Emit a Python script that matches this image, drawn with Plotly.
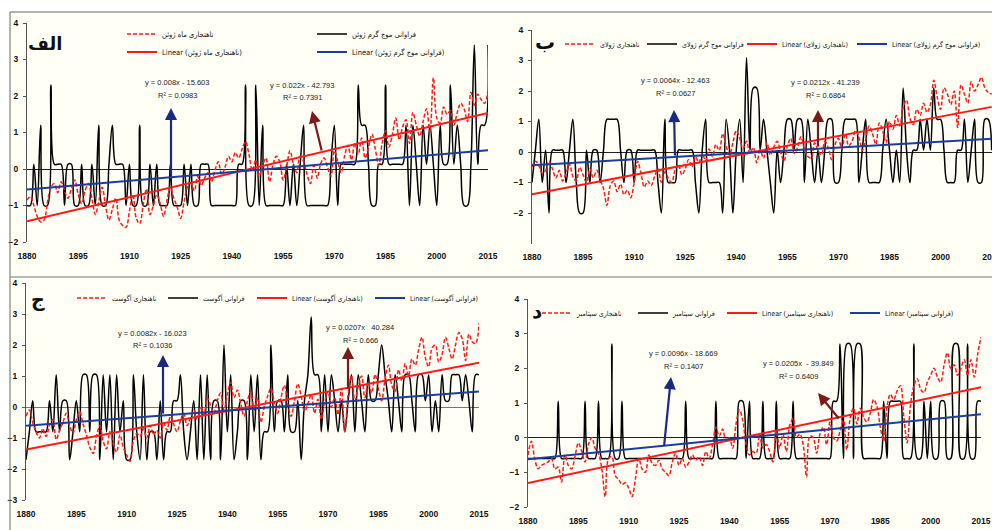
import plotly.graph_objects as go

W, H = 992, 530
years = list(range(1880, 2016))
tick_years = [1880, 1895, 1910, 1925, 1940, 1955, 1970, 1985, 2000, 2015]

# ---------------- Panel الف (June) ----------------
june_freq = [
    -1, -1, 0.13, -1, 1.2, -1, -1, 2.3, 0.13, 0.13,
    0.13, -1, 0.13, 0.13, -1, -1, 0.13, -1, -1, 0.13,
    -1, 1.2, -1, -1, 0.13, 1.2, 0.13, 0.13, 0.13, -1,
    0.13, -1, -1, 1.2, -1, -1, 0.13, -1, 0.13, -1,
    -1, -1, 0.13, -1, -1, -1, 0.13, -1, 0.13, -1,
    -1, 0.13, 0.13, 0.13, -1, -1, -1, -1, -1, -1,
    -1, -1, 0.13, 0.13, 2.3, -1, -1, 2.3, -1, 1.2,
    -1, -1, -1, -1, -1, -1, 0.13, -1, 0.13, -1,
    0.13, 1.2, -1, -1, -1, -1, -1, -1, -1, 0.13,
    1.2, -1, 0.13, 0.13, 0.13, 0.13, 0.13, 2.3, 1.2, 1.2,
    0.13, -1, -1, 0.13, 0.13, 2.3, 0.13, 0.13, 0.13, 0.13,
    0.13, 1.2, -1, 1.2, 0.13, -1, 1.2, 0.13, 1.2, 0.13,
    -1, 1.2, 0.13, 0.13, 2.3, 0.13, 1.2, 0.13, -1, -1,
    0.13, 3.4, 0.13, 1.2, 1.2, 3.4]
june_anom = [
    -0.85, -0.75, -1.0, -1.3, -1.45, -1.4, -0.9, -0.5, -0.4, -0.65,
    -0.35, -0.6, -0.8, -0.55, -0.3, -0.7, -0.95, -0.6, -0.4, -0.8,
    -1.25, -0.9, -0.5, -1.0, -1.4, -1.1, -0.8, -1.4, -1.55, -1.6,
    -1.15, -0.7, -1.35, -1.5, -1.0, -0.55, -1.25, -1.0, -0.7, -0.95,
    -1.3, -0.85, -0.5, -0.8, -1.05, -1.35, -0.9, -0.5, -0.4, -0.6,
    -0.2, -0.45, -0.25, -0.1, -0.35, -0.05, 0.2, -0.15, 0.05, 0.35,
    0.2, 0.45, 0.3, 0.55, 0.75, 0.4, -0.05, 0.25, -0.2, 0.1,
    0.3, -0.35, 0.1, 0.35, 0.2, -0.3, 0.05, 0.5, 0.15, -0.1,
    0.35, 0.2, -0.15, -0.4, 0.1, -0.25, 0.15, 0.3, 0.05, -0.2,
    0.5, 0.2, -0.1, 0.35, 0.65, 0.25, 0.7, 0.4, 0.85, 0.3,
    0.6, 0.95, 0.55, 0.1, 0.7, 1.05, 0.6, 0.95, 1.4, 0.8,
    1.15, 1.35, 0.7, 1.55, 1.2, 0.9, 1.3, 1.65, 1.0, 2.5,
    1.4, 1.25, 1.7, 1.5, 1.6, 1.2, 1.55, 1.8, 1.65, 1.3,
    2.1, 1.75, 2.05, 1.9, 1.8, 2.15]

# ---------------- Panel ب (July) ----------------
july_freq = [
    -1.0, 0.06, 1.07, -1.0, 0.06, -2.0, 0.06, 0.06, 0.06, 0.06,
    -1.0, 0.06, 1.07, -1.0, -2.0, -2.0, 0.06, -1.0, 0.06, 0.06,
    -1.0, 0.06, 1.07, 1.07, 1.07, 1.07, 0.06, -1.0, 0.06, 0.06,
    -1.0, 0.06, 0.06, 0.06, 0.06, 0.06, 0.06, -1.0, -2.0, 1.07,
    -1.0, -1.0, -1.0, 0.06, 0.06, 0.06, 0.06, 0.06, -1.0, -2.0,
    0.06, 1.07, -1.0, -1.0, -1.0, -1.0, -2.0, 1.07, 0.06, -2.0,
    0.06, 1.07, -1.0, 3.1, 0.06, 2.1, 2.1, 0.06, 1.07, 0.06,
    -1.0, -2.0, 0.06, -1.0, 0.06, 1.07, 1.07, 0.06, 1.07, 1.07,
    -1.0, 1.07, 0.06, -1.0, 0.06, -1.0, 0.06, 1.07, 1.07, -1.0,
    -1.0, 0.06, 1.07, 1.07, 1.07, 1.07, -1.0, 0.06, 1.07, -1.0,
    -1.0, -1.0, -1.0, 0.06, 1.07, 0.06, -1.0, 0.06, -1.0, 2.1,
    0.06, -1.0, 0.06, 0.06, 1.07, 0.06, 1.07, 0.06, 2.1, 1.07,
    1.07, 0.06, -1.0, -1.0, -1.0, 0.06, 0.06, 1.07, -1.0, 0.06,
    1.07, -1.0, -1.0, 1.07, 1.07, 0.06]
july_anom = [
    -0.5, -0.3, -0.45, -0.7, -0.6, -0.3, -0.55, -0.85, -0.6, -0.95,
    -0.7, -0.4, -0.8, -0.95, -0.5, -0.75, -1.0, -0.55, -0.85, -0.6,
    -0.9, -1.2, -1.75, -1.1, -0.95, -1.3, -1.05, -1.4, -1.25, -1.5,
    -1.0, -0.3, -0.7, -1.15, -0.95, -1.1, -0.8, -0.55, -1.0, -0.65,
    -0.85, -1.0, -0.6, -0.4, -0.75, -0.55, -0.25, -0.5, -0.15, -0.35,
    -0.05, -0.3, 0.1, -0.15, 0.25, 0.05, 0.6, 0.2, -0.1, 0.3,
    0.7, 0.45, 0.1, 0.35, -0.05, 0.15, -0.35, 0.05, -0.2, 0.3,
    -0.1, 0.15, 0.35, 0.0, -0.3, 0.2, 0.45, -0.05, 0.15, 0.5,
    0.1, -0.15, -0.2, 0.3, 0.05, -0.1, 0.35, 0.15, -0.25, 0.25,
    0.45, 0.1, 0.6, 0.2, 0.35, 0.7, 0.5, 0.05, 0.4, 0.85,
    0.6, 0.25, 0.95, 0.7, 0.3, 1.0, 0.75, 1.2, 0.85, 1.45,
    1.7, 1.1, 0.9, 1.4, 1.2, 1.6, 1.3, 1.55, 2.35, 1.8,
    1.4, 2.1, 1.9, 1.55, 2.0, 0.8, 2.2, 1.9, 1.6, 2.3,
    2.0, 2.2, 2.45, 2.1, 1.95, 1.9]

# ---------------- Panel ج (August) ----------------
aug_freq = [
    -1.7, -0.8, 0.2, -0.8, -0.8, -0.8, -0.8, 0.2, -0.8, 1.04,
    -0.8, 0.2, 0.2, -1.7, -0.8, 0.2, -0.8, 1.04, 1.04, -0.8,
    1.04, 1.04, -1.7, 1.04, -0.8, 1.04, -1.7, 1.04, -0.8, 0.2,
    -1.7, -1.7, 1.04, -0.8, -1.7, 1.04, -1.7, -0.8, -0.8, -1.7,
    0.2, -1.7, -0.8, -0.8, 0.2, 0.2, 1.04, -0.8, -1.7, -0.8,
    0.2, -1.7, 1.04, -1.7, 1.04, -1.7, 0.2, 0.2, -1.7, 2.0,
    -0.8, 1.04, -1.7, -0.8, 0.2, 0.2, -1.7, 1.04, -0.8, 1.04,
    -1.7, -0.8, -0.8, 2.0, -0.8, 0.2, 0.2, -0.8, 1.04, -0.8,
    -0.8, 0.2, -1.7, 0.2, 1.04, 2.9, 1.04, 1.04, -0.8, 1.04,
    -0.8, 1.04, 0.2, -0.8, 0.2, -0.8, 0.2, 1.04, -0.8, 1.04,
    0.2, -0.8, 1.04, 0.2, 0.2, 1.04, 2.0, 1.04, 0.2, -0.8,
    1.04, 0.2, -0.8, 1.04, 1.04, 0.2, -0.8, 1.04, 1.04, 0.2,
    1.04, -0.8, 0.2, -0.8, 1.04, 0.2, 0.2, 1.04, 1.04, 1.04,
    0.2, 1.04, 0.2, -0.8, 1.04, 1.04]
aug_anom = [
    -0.3, -0.1, -0.5, -0.8, -1.0, -0.7, -0.95, -0.6, -0.4, -1.05,
    -0.75, -0.5, -0.2, -0.6, -0.85, -0.4, -0.15, -0.55, -0.9, -1.3,
    -1.5, -0.95, -0.6, -1.1, -1.35, -0.8, -1.2, -1.45, -0.9, -1.3,
    -1.55, -1.75, -1.1, -0.85, -0.95, -0.7, -1.0, -0.6, -0.9, -0.75,
    -1.0, -0.5, -0.75, -0.3, -0.55, -0.8, -0.45, -0.2, -0.6, -0.35,
    -0.1, -0.4, 0.0, -0.25, 0.3, 0.05, -0.2, 0.2, 0.45, -0.1,
    0.4, 0.8, 0.3, 0.55, 0.1, -0.3, 0.2, 0.5, -0.1, 0.3,
    -0.5, 0.0, 0.35, 0.6, 0.15, -0.2, 0.3, 0.7, 0.1, -0.3,
    0.2, 0.75, 0.35, -0.15, 0.1, 0.4, -0.2, 0.25, -0.4, 0.15,
    0.5, 0.0, 0.3, -0.25, 0.6, -0.8, 0.4, 1.0, 0.2, 0.65,
    1.0, 0.3, 0.8, 0.45, 1.05, 0.6, 0.2, 0.9, 1.35, 0.7,
    0.5, 1.2, 0.85, 1.4, 1.0, 1.55, 1.35, 1.85, 2.25, 1.6,
    1.3, 1.9, 2.0, 1.45, 1.7, 2.25, 1.9, 1.55, 2.0, 2.4,
    2.2, 1.5, 2.35, 2.1, 2.05, 2.7]

# ---------------- Panel د (September) ----------------
sep_freq = [
    -0.6, -0.6, -0.6, -0.6, -0.6, -0.6, -0.6, -0.6, -0.6, 1.05,
    -0.6, -0.6, -0.6, -0.6, -0.6, -0.6, -0.6, 1.05, -0.6, -0.6,
    -0.6, 1.05, -0.6, -0.6, -0.6, 2.7, -0.6, -0.6, 1.05, -0.6,
    -0.6, -0.6, -0.6, -0.6, -0.6, -0.6, -0.6, -0.6, -0.6, -0.6,
    -0.6, -0.6, -0.6, -0.6, -0.6, -0.6, -0.6, 1.05, -0.6, -0.6,
    -0.6, -0.6, -0.6, -0.6, -0.6, -0.6, 1.05, -0.6, -0.6, -0.6,
    -0.6, -0.6, -0.6, 1.05, 1.05, -0.6, 1.05, -0.6, -0.6, -0.6,
    1.05, -0.6, -0.6, -0.6, 1.05, -0.6, -0.6, -0.6, -0.6, 1.05,
    -0.6, -0.6, -0.6, -0.6, -0.6, -0.6, -0.6, -0.6, -0.6, -0.6,
    -0.6, 1.05, 1.05, 2.7, -0.6, 2.7, 2.7, -0.6, 2.7, 2.7,
    -0.6, -0.6, -0.6, -0.6, -0.6, -0.6, 1.05, -0.6, 1.05, 1.05,
    1.05, 1.05, -0.6, -0.6, -0.6, 2.7, -0.6, -0.6, 1.05, -0.6,
    1.05, -0.6, -0.6, 1.05, 1.05, -0.6, -0.6, 2.7, 2.7, -0.6,
    -0.6, 2.7, -0.6, -0.6, 1.05, 1.05]
sep_anom = [
    -0.5, -0.1, -0.6, -0.9, -0.8, -0.75, -0.7, -0.6, -0.9, -0.85,
    -1.28, -0.5, -0.8, -0.9, -0.55, -0.15, -0.4, -0.7, -0.2, 0.0,
    -0.3, -0.45, -0.9, -1.7, -0.6, -0.55, -1.1, -1.2, -1.35, -1.3,
    -1.45, -1.7, -1.2, -0.6, -0.9, -1.0, -0.5, -0.75, -0.8, -0.65,
    -0.9, -1.0, -1.1, -0.7, -0.45, -0.8, -0.6, -0.85, -0.7, -0.5,
    -0.65, -0.55, -0.8, -0.4, -0.6, -0.2, 0.3, 0.05, 0.25, -0.1,
    0.0, -0.3, 0.4, 0.8, 0.5, -0.2, -0.5, -0.4, -0.45, 0.1,
    -0.3, -0.2, -0.4, -0.7, 0.2, -0.3, 0.1, -0.4, 0.35, 0.55,
    0.0, 0.1, -0.2, -1.13, 0.05, 0.0, -0.45, 0.1, 0.3, -0.2,
    0.45, 0.0, -0.1, 0.2, 0.5, -0.35, 0.55, 0.85, 0.4, 0.85,
    0.6, 0.45, 0.7, 1.1, 0.9, 0.3, -0.1, 0.9, 1.25, 1.1,
    1.35, 1.5, 0.6, -0.15, 0.95, 1.5, 1.7, 1.4, 1.3, 1.6,
    1.8, 2.0, 1.75, 1.6, 2.1, 2.45, 2.0, 2.1, 1.8, 2.0,
    2.25, 1.8, 2.25, 1.75, 2.4, 2.9]

# trend-line equations printed on the chart: (slope, intercept)
june_anom_fit = (0.022, -42.793)
june_freq_fit = (0.008, -15.603)
july_anom_fit = (0.0212, -41.239)
july_freq_fit = (0.0064, -12.463)
aug_anom_fit = (0.0207, -40.284)
aug_freq_fit = (0.0082, -16.023)
sep_anom_fit = (0.0205, -39.849)
sep_freq_fit = (0.0096, -18.669)

names = [
    ("ناهنجاری ماه ژوئن", "فراوانی موج گرم ژوئن", "Linear (ناهنجاری ماه ژوئن)", "Linear (فراوانی موج گرم ژوئن)"),
    ("ناهنجاری ژولای", "فراوانی موج گرم ژولای", "Linear (ناهنجاری ژولای)", "Linear (فراوانی موج گرم ژولای)"),
    ("ناهنجاری آگوست", "فراوانی آگوست", "Linear (ناهنجاری آگوست)", "Linear (فراوانی آگوست)"),
    ("ناهنجاری سپتامبر", "فراوانی سپتامبر", "Linear (ناهنجاری سپتامبر)", "Linear (فراوانی سپتامبر)"),
]
series = [
    (june_anom, june_freq, june_anom_fit, june_freq_fit),
    (july_anom, july_freq, july_anom_fit, july_freq_fit),
    (aug_anom, aug_freq, aug_anom_fit, aug_freq_fit),
    (sep_anom, sep_freq, sep_anom_fit, sep_freq_fit),
]

# layout geometry in pixels: (x_left, x_right, xmax_year, y_top, y_bottom, ymin, ymax)
geom = [
    (27, 488, 2015, 23, 242, -2, 4),
    (532, 992, 2015.1, 30, 243.5, -3, 4),
    (26, 479, 2015, 283, 500, -3, 4),
    (528, 981, 2015, 299, 507, -2, 4),
]
# legend sample-line END positions (px) and row y
legend_pos = [
    [(157, 34), (347, 34), (157, 52), (347, 52)],
    [(595, 44), (677, 44), (777, 44), (887, 44)],
    [(107, 298), (198, 298), (287, 298), (405, 298)],
    [(572, 313), (668, 313), (757, 313), (880, 313)],
]
legend_size = [7.5, 7, 7, 7]

RED = "#FF1A1A"
BLUE = "#1C3D9C"
FONT = "Liberation Sans Narrow, Arial Narrow, Liberation Sans, DejaVu Sans, sans-serif"
LFONT = "DejaVu Sans Condensed, DejaVu Sans, sans-serif"
AFONT = "DejaVu Sans, sans-serif"

fig = go.Figure()
layout = dict(width=W, height=H, margin=dict(l=0, r=0, t=0, b=0, autoexpand=False),
              paper_bgcolor="white", plot_bgcolor="rgba(0,0,0,0)",
              showlegend=True)

def px(x):
    return x / W

def py(y):
    return 1 - y / H

for p in range(4):
    anom, freq, afit, ffit = series[p]
    xl, xr, xmax, yt, yb, ymin, ymax = geom[p]
    xa = "x" if p == 0 else f"x{p + 1}"
    ya = "y" if p == 0 else f"y{p + 1}"
    lg = ["legend" if 4 * p + k == 0 else f"legend{4 * p + k + 1}" for k in range(4)]
    n1, n2, n3, n4 = names[p]
    fig.add_trace(go.Scatter(x=years, y=freq, mode="lines", name=n2, xaxis=xa, yaxis=ya,
                             line=dict(color="black", width=1.5, shape="spline", smoothing=1.0),
                             legend=lg[1]))
    fig.add_trace(go.Scatter(x=years, y=anom, mode="lines", name=n1, xaxis=xa, yaxis=ya,
                             line=dict(color=RED, width=1.5, dash="4px,2px", shape="spline", smoothing=1.0),
                             legend=lg[0]))
    tx = [1880, 2015]
    fig.add_trace(go.Scatter(x=tx, y=[afit[0] * t + afit[1] for t in tx], mode="lines", name=n3,
                             xaxis=xa, yaxis=ya, line=dict(color=RED, width=2), legend=lg[2]))
    fig.add_trace(go.Scatter(x=tx, y=[ffit[0] * t + ffit[1] for t in tx], mode="lines", name=n4,
                             xaxis=xa, yaxis=ya, line=dict(color=BLUE, width=2), legend=lg[3]))

    sfx = "" if p == 0 else str(p + 1)
    layout["xaxis" + sfx] = dict(domain=[px(xl), px(xr)], range=[1880, xmax], anchor=ya,
                                 tickvals=tick_years, ticktext=[str(t) for t in tick_years],
                                 showgrid=False, zeroline=False, showline=False, ticks="",
                                 tickfont=dict(family=FONT, size=8.5, color="#111", weight="bold"),
                                 ticklabelstandoff=7, automargin=False, ticklabeloverflow="allow")
    layout["yaxis" + sfx] = dict(domain=[py(yb), py(yt)], range=[ymin, ymax], anchor=xa,
                                 tickvals=list(range(-2 if p == 1 else ymin, 5)),
                                 showgrid=False, zeroline=True,
                                 zerolinecolor="#777" if p == 2 else "#222", zerolinewidth=1,
                                 showline=True, linecolor="#555", linewidth=1,
                                 ticks="outside", ticklen=3, tickcolor="#555",
                                 tickfont=dict(family=FONT, size=8.5, color="#111", weight="bold"),
                                 ticklabelstandoff=3, automargin=False)
    for k in range(4):
        lx, ly = legend_pos[p][k]
        layout[lg[k]] = dict(x=px(lx - 35), y=py(ly), xanchor="left", yanchor="middle",
                             orientation="h", bgcolor="rgba(0,0,0,0)", borderwidth=0,
                             itemwidth=30,
                             font=dict(family=LFONT, size=legend_size[p], color="#111"))

shapes = [
    dict(type="rect", xref="paper", yref="paper", x0=px(10), x1=1, y0=0, y1=py(12),
         fillcolor="#FFFFF5", line=dict(width=0), layer="below"),
    dict(type="line", xref="paper", yref="paper", x0=px(10), x1=1, y0=py(12), y1=py(12),
         line=dict(color="#666", width=1)),
    dict(type="line", xref="paper", yref="paper", x0=px(10), x1=px(10), y0=0, y1=py(12),
         line=dict(color="#666", width=1)),
    dict(type="line", xref="paper", yref="paper", x0=px(10), x1=1, y0=py(277), y1=py(277),
         line=dict(color="#777", width=1)),
]
layout["shapes"] = shapes

ann = []
def text(x, y, s, size=7.5, bold=False, color="#222", family=FONT):
    ann.append(dict(x=px(x), y=py(y), xref="paper", yref="paper", text=s, showarrow=False,
                    xanchor="center", yanchor="middle",
                    font=dict(family=family, size=size, color=color, weight="bold" if bold else "normal")))

def arrow(hx, hy, tx_, ty_, color):
    ann.append(dict(x=px(hx), y=py(hy), xref="paper", yref="paper", ax=tx_ - hx, ay=ty_ - hy,
                    axref="pixel", ayref="pixel", text="", showarrow=True, arrowhead=2,
                    arrowsize=1.1, arrowwidth=2.2, arrowcolor=color))

# panel letters
text(45, 44, "الف", size=18, bold=True, color="#111", family=AFONT)
text(545, 42, "ب", size=20, bold=True, color="#111", family=AFONT)
text(38, 299, "ج", size=19, bold=True, color="#111", family=AFONT)
text(537, 311, "د", size=20, bold=True, color="#111", family=AFONT)

# equations
text(177, 83, "y = 0.008x - 15.603")
text(177, 96, "R² = 0.0983")
text(302, 86, "y = 0.022x - 42.793")
text(302, 98, "R² = 0.7391")
text(675, 81, "y = 0.0064x - 12.463")
text(675, 94, "R² = 0.0627")
text(825, 83, "y = 0.0212x - 41.239")
text(825, 96, "R² = 0.6864")
text(152, 333, "y = 0.0082x - 16.023")
text(152, 345, "R² = 0.1036")
text(360, 327, "y = 0.0207x   40.284")
text(360, 340, "R² = 0.666")
text(683, 353, "y = 0.0096x - 18.669")
text(683, 366, "R² = 0.1407")
text(798, 363, "y = 0.0205x  - 39.849")
text(798, 376, "R² = 0.6409")

NAVY = "#1A2A80"
MAROON = "#7A1A1A"
arrow(171, 108, 171, 177, NAVY)
arrow(312, 111, 322, 152, MAROON)
arrow(674, 110, 675, 157, NAVY)
arrow(818, 110, 818, 148, MAROON)
arrow(163, 355, 163, 415, NAVY)
arrow(348, 347, 348, 390, MAROON)
arrow(671, 377, 664, 447, NAVY)
arrow(818, 393, 840, 420, MAROON)
layout["annotations"] = ann

fig.update_layout(**layout)
fig.write_html("out.html", config={"displayModeBar": False},
               post_script="document.body.style.margin='0';document.body.style.overflow='hidden';")
